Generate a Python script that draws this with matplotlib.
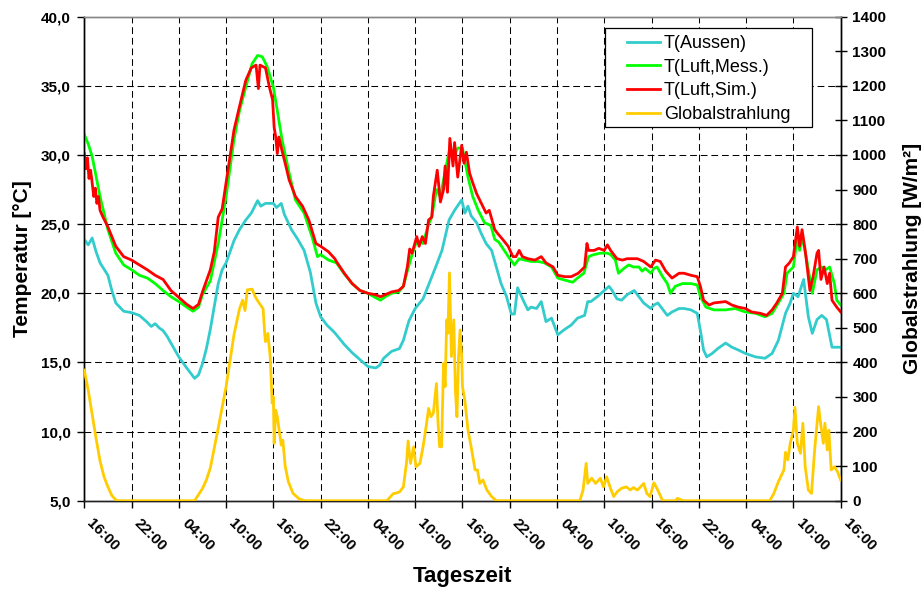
import matplotlib
matplotlib.use('Agg')
import matplotlib.pyplot as plt
from matplotlib.patches import Rectangle

plt.rcParams['font.family'] = ['Liberation Sans', 'DejaVu Sans']

# ---------------- data (hours after 16:00 of day 1) ----------------
x_tick_hours = [0, 6, 12, 18, 24, 30, 36, 42, 48, 54, 60, 66, 72, 78, 84, 90, 96]
x_tick_labels = ['16:00', '22:00', '04:00', '10:00', '16:00', '22:00', '04:00', '10:00',
                 '16:00', '22:00', '04:00', '10:00', '16:00', '22:00', '04:00', '10:00', '16:00']
temp_ticks = [5, 10, 15, 20, 25, 30, 35, 40]
temp_tick_labels = ['5,0', '10,0', '15,0', '20,0', '25,0', '30,0', '35,0', '40,0']
rad_ticks = [0, 100, 200, 300, 400, 500, 600, 700, 800, 900, 1000, 1100, 1200, 1300, 1400]

t_aussen = [0, 0.5, 1.0, 1.5, 2, 3, 3.5, 4, 5, 6, 7, 8, 8.5, 9, 9.5, 10, 10.5, 11, 12, 13, 14,
            14.5, 15, 15.5, 16, 17, 17.5, 18, 19, 19.7, 20.5, 21.2, 22, 22.4, 23, 24, 24.4, 25,
            25.4, 26.3, 27.1, 27.9, 28.7, 29.4, 30, 30.8, 31.7, 32, 33, 34, 35, 36, 37, 37.5, 38,
            39, 40, 40.5, 41.2, 42, 43, 43.7, 44.6, 45.4, 46.3, 47, 47.9, 48.3, 48.7, 49.1, 49.8,
            50.4, 51, 51.7, 52.3, 52.9, 53.6, 54.2, 54.6, 55, 55.7, 56.3, 56.7, 57.4, 58, 58.6,
            59.3, 60.1, 61, 61.8, 62.6, 63.5, 63.9, 64.3, 65.1, 66, 66.6, 67, 67.6, 68.2, 68.9,
            69.8, 70.4, 71, 71.9, 72.3, 72.8, 74, 74.6, 75.5, 76.1, 77, 77.8, 78.2, 78.6, 79,
            79.7, 80.4, 81.4, 82.2, 83, 83.9, 85.2, 86.4, 87.3, 88.1, 89, 89.6, 90, 90.6, 91.3,
            91.9, 92.4, 93, 93.6, 94.2, 94.9, 95.5, 96]
v_aussen = [23.9, 23.5, 24.0, 23.0, 22.2, 21.3, 20.2, 19.3, 18.7, 18.6, 18.4, 17.9, 17.6, 17.8,
            17.5, 17.3, 16.9, 16.4, 15.4, 14.6, 13.85, 14.1, 14.9, 16.0, 17.4, 20.7, 21.7, 22.2,
            23.8, 24.6, 25.3, 25.8, 26.7, 26.3, 26.5, 26.5, 26.2, 26.5, 25.7, 24.6, 23.9, 23.1,
            21.5, 19.3, 18.3, 17.7, 17.2, 17.0, 16.3, 15.7, 15.2, 14.7, 14.6, 14.8, 15.3, 15.8,
            16.0, 16.6, 18.0, 18.9, 19.6, 20.6, 21.9, 23.1, 25.3, 26.0, 26.75, 25.8, 26.3, 25.6,
            25.1, 24.3, 23.6, 23.1, 21.9, 20.7, 19.75, 18.5, 18.5, 20.4, 19.5, 18.8, 19.0, 18.9,
            19.4, 17.95, 18.2, 17.0, 17.4, 17.7, 18.2, 18.4, 19.4, 19.4, 19.75, 20.2, 20.5, 20.2,
            19.6, 19.5, 19.9, 20.2, 19.75, 19.3, 18.9, 19.15, 19.3, 18.4, 18.65, 18.9, 18.9, 18.8,
            18.55, 17.3, 15.9, 15.4, 15.65, 16.0, 16.4, 16.1, 15.9, 15.65, 15.4, 15.3, 15.65,
            16.6, 18.55, 19.3, 20.0, 19.75, 21.0, 18.3, 17.1, 18.1, 18.4, 18.1, 16.1, 16.1, 16.1]

t_mess = [0, 0.5, 1, 2, 3, 4, 5, 6, 7, 8, 9, 10, 11, 12, 13, 13.8, 14.5, 15, 15.5, 16, 17, 18,
          19, 19.7, 20.5, 21.3, 22, 22.6, 23.2, 24, 24.5, 25.1, 26, 26.8, 27.9, 28.9, 29.6, 30,
          31, 32, 33, 34, 35, 36, 36.9, 37.6, 38.2, 39, 39.9, 40.5, 41, 41.5, 42.2, 43, 43.7,
          44.1, 44.7, 45.2, 45.8, 46.4, 47, 47.4, 48, 48.7, 49.3, 50, 50.8, 51.6, 52.1, 52.6,
          53.3, 54, 54.6, 55.2, 55.9, 56.7, 57.6, 58.4, 59.3, 60.1, 61, 62, 62.6, 63.4, 64,
          64.7, 65.5, 66.4, 66.8, 67.4, 67.8, 68.5, 69.1, 69.7, 70.4, 70.8, 71.2, 71.9, 72.3,
          72.7, 73.4, 74, 74.4, 75, 75.9, 77, 77.8, 78.2, 78.9, 79.9, 81.4, 82.6, 83.9, 85.2,
          86.4, 87.3, 88.1, 88.8, 89.2, 90, 90.5, 90.8, 91.1, 91.7, 92.4, 93, 93.6, 94.1, 94.6,
          95.2, 95.5, 96]
v_mess = [31.5, 30.8, 29.9, 27.0, 24.6, 22.9, 22.05, 21.7, 21.3, 21.1, 20.7, 20.2, 19.75, 19.4,
          19.0, 18.7, 19.0, 19.9, 20.4, 20.9, 23.6, 27.0, 31.1, 33.2, 34.9, 36.6, 37.2, 37.1,
          36.4, 34.9, 33.2, 31.1, 28.7, 26.75, 25.8, 24.1, 22.65, 22.8, 22.4, 22.2, 21.4, 20.7,
          20.2, 20.0, 19.7, 19.5, 19.75, 20.0, 20.1, 20.5, 21.6, 22.6, 23.8, 23.6, 25.0, 25.5,
          27.5, 27.0, 28.8, 30.5, 30.0, 30.5, 30.5, 28.4, 27.0, 26.0, 25.1, 24.9, 23.9, 23.7,
          23.1, 22.5, 22.05, 22.5, 22.4, 22.3, 22.3, 22.2, 21.9, 21.1, 20.95, 20.8, 21.1,
          21.45, 22.65, 22.8, 22.9, 22.9, 22.8, 22.4, 21.45, 21.8, 22.05, 21.9, 21.9, 21.6,
          21.8, 21.45, 21.8, 21.9, 21.2, 20.7, 20.0, 20.5, 20.7, 20.7, 20.6, 19.75, 19.0, 18.8,
          18.8, 18.9, 18.65, 18.55, 18.3, 18.55, 19.3, 20.0, 21.45, 21.9, 24.1, 23.1, 24.1,
          22.4, 20.0, 21.7, 21.9, 21.7, 21.9, 20.7, 19.5, 19.15]

t_sim = [0, 0.2, 0.4, 0.6, 0.8, 1.0, 1.2, 1.4, 1.6, 1.8, 2.0, 2.3, 3, 4, 5, 6, 7, 8, 9, 10, 11,
         12, 13, 13.8, 14.5, 15, 15.5, 16, 16.5, 17, 17.5, 18, 18.5, 19, 19.7, 20.5, 21.2, 21.8,
         22.1, 22.3, 23, 23.5, 23.9, 24.1, 24.3, 24.5, 24.7, 25.1, 25.5, 26, 26.8, 27.7, 28.5,
         29.4, 30, 31, 31.8, 32, 33, 34, 35, 36, 36.9, 37.6, 38.2, 39, 39.9, 40.5, 41, 41.3,
         41.6, 42.2, 42.5, 42.9, 43.3, 43.7, 44.1, 44.3, 44.8, 45.2, 45.6, 45.8, 46.1, 46.4,
         46.8, 47.0, 47.4, 47.9, 48.2, 48.5, 48.9, 49.3, 49.8, 50.4, 51, 51.4, 51.85, 52.1,
         52.5, 53.1, 53.8, 54.4, 54.8, 55.2, 55.6, 56.3, 57.2, 58, 58.6, 59.5, 60.1, 61, 61.8,
         62.7, 63.5, 63.8, 64.0, 64.7, 65.3, 66, 66.4, 66.8, 67.6, 68.3, 68.9, 69.6, 70.2, 71,
         71.9, 72.5, 73.1, 73.8, 74.6, 75.5, 76.1, 77, 77.8, 78.2, 78.6, 79.3, 79.9, 81.4, 82.2,
         83, 83.9, 84.7, 85.8, 86.6, 87.3, 87.9, 88.6, 89, 89.5, 90, 90.5, 90.8, 91.1, 91.5,
         92.1, 92.5, 93, 93.2, 93.5, 93.9, 94.3, 94.6, 94.9, 95.5, 96]
v_sim = [30.1, 29.0, 29.8, 28.3, 28.9, 28.0, 27.0, 27.6, 26.5, 27.0, 26.0, 25.6, 24.8, 23.4,
         22.65, 22.4, 22.05, 21.7, 21.3, 21.0, 20.2, 19.7, 19.2, 18.9, 19.2, 20.1, 20.9, 21.7,
         23.0, 25.5, 26.1, 28.0, 29.9, 31.8, 33.5, 35.4, 36.3, 36.5, 34.8, 36.5, 36.3, 34.9,
         34.0, 32.0, 31.3, 30.1, 31.3, 30.3, 29.4, 28.2, 27.0, 26.3, 25.3, 23.6, 23.4, 23.0,
         22.5, 22.3, 21.45, 20.7, 20.2, 20.0, 19.9, 19.75, 19.9, 20.1, 20.2, 20.5, 21.9, 23.2,
         22.9, 24.1, 23.4, 24.1, 23.6, 25.3, 25.5, 27.0, 28.9, 26.6, 27.5, 29.2, 27.3, 31.2,
         29.2, 30.9, 28.4, 30.7, 29.4, 30.2, 28.7, 28.0, 27.2, 26.5, 25.8, 26.0, 25.1, 24.6,
         24.3, 23.9, 23.4, 22.65, 22.65, 23.1, 22.65, 22.5, 22.4, 22.65, 22.2, 21.9, 21.3,
         21.2, 21.2, 21.45, 21.9, 23.6, 23.1, 23.1, 23.25, 23.1, 23.5, 23.1, 22.5, 22.4, 22.5,
         22.5, 22.5, 22.3, 21.9, 22.4, 22.3, 21.6, 21.1, 21.45, 21.45, 21.3, 21.2, 20.5, 19.5,
         19.15, 19.3, 19.4, 19.15, 19.0, 18.9, 18.65, 18.55, 18.4, 18.8, 19.3, 20.0, 21.9,
         22.2, 22.65, 24.8, 23.4, 24.6, 23.1, 20.2, 21.2, 22.9, 23.1, 21.0, 21.9, 20.7, 21.45,
         19.5, 19.0, 18.65]

t_glob = [0, 0.5, 1, 1.5, 2, 2.5, 3, 3.5, 4.1, 14, 15, 15.5, 16, 17, 18, 19, 19.7, 20.1, 20.4,
          20.7, 21.3, 21.7, 22.1, 22.7, 22.9, 23.0, 23.3, 23.6, 23.85, 24.0, 24.1, 24.3, 24.5,
          24.8, 25.0, 25.2, 25.5, 25.9, 26.5, 27.3, 28, 38.4, 39.2, 40, 40.5, 40.9, 41.1, 41.4,
          41.8, 42.1, 42.6, 43, 43.45, 43.7, 44, 44.3, 44.7, 44.9, 45.1, 45.35, 45.6, 45.8,
          46.0, 46.15, 46.35, 46.6, 46.9, 47.1, 47.3, 47.5, 47.7, 47.9, 48.0, 48.3, 48.7, 49.1,
          49.6, 49.9, 50.2, 50.6, 51.1, 51.7, 52.3, 62.9, 63.3, 63.7, 63.9, 64.4, 64.9, 65.5,
          65.9, 66.3, 66.8, 67.2, 67.6, 68.2, 68.8, 69.3, 69.7, 70.2, 70.6, 71, 71.4, 71.8,
          72.3, 72.7, 73.4, 75.0, 75.3, 76, 87, 87.5, 88.1, 88.8, 89.0, 89.3, 89.6, 90, 90.2,
          90.5, 90.9, 91.2, 91.5, 91.9, 92.3, 92.7, 93.2, 93.4, 93.8, 94.0, 94.3, 94.5, 94.8,
          95.2, 95.6, 96]
v_glob = [378, 320, 250, 180, 115, 70, 40, 15, 0, 0, 35, 60, 95, 210, 330, 480, 555, 580, 550,
          610, 612, 590, 575, 555, 484, 460, 484, 416, 282, 300, 166, 262, 243, 195, 161, 175,
          100, 55, 21, 5, 0, 0, 20, 25, 40, 110, 173, 108, 156, 98, 108, 156, 224, 267, 243,
          253, 339, 224, 156, 156, 397, 330, 523, 484, 659, 417, 523, 320, 243, 417, 494, 417,
          330, 291, 204, 156, 89, 89, 50, 60, 31, 12, 0, 0, 30, 108, 50, 65, 50, 65, 40, 69, 35,
          12, 25, 36, 40, 31, 38, 31, 40, 50, 21, 12, 52, 35, 0, 0, 7, 0, 0, 20, 55, 89, 140,
          118, 166, 204, 270, 166, 137, 224, 98, 31, 21, 147, 272, 233, 166, 224, 147, 204, 89,
          98, 84, 60]

series_names = ['T(Aussen)', 'T(Luft,Mess.)', 'T(Luft,Sim.)', 'Globalstrahlung']
series_colors = ['#33CCCC', '#00FF00', '#FF0000', '#FFCC00']

# ---------------- figure ----------------
fig = plt.figure(figsize=(9.24, 5.92), dpi=100)
ax = fig.add_axes([0.0912, 0.1542, 0.8186, 0.8176])
ax2 = ax.twinx()

lw = 2.0
l1, = ax.plot(t_aussen, v_aussen, color=series_colors[0], lw=lw, label=series_names[0], zorder=3)
l2, = ax.plot(t_mess, v_mess, color=series_colors[1], lw=lw, label=series_names[1], zorder=4)
l3, = ax.plot(t_sim, v_sim, color=series_colors[2], lw=lw, label=series_names[2], zorder=5)
l4, = ax2.plot(t_glob, v_glob, color=series_colors[3], lw=lw, label=series_names[3], zorder=3)

ax.set_xlim(0, 96)
ax.set_ylim(5, 40)
ax2.set_ylim(0, 1400)

ax.set_xticks(x_tick_hours)
ax.set_xticklabels(x_tick_labels, rotation=-45, ha='left', va='top',
                   fontsize=11, fontweight='bold')
ax.set_yticks(temp_ticks)
ax.set_yticklabels(temp_tick_labels, fontsize=11, fontweight='bold')
ax2.set_yticks(rad_ticks)
ax2.set_yticklabels([str(v) for v in rad_ticks], fontsize=11, fontweight='bold')

ax.tick_params(axis='x', direction='out', length=5, width=1, pad=6)
ax.tick_params(axis='y', direction='out', length=5, width=1, pad=5)
ax2.tick_params(axis='y', direction='inout', length=9, width=1, pad=4)

ax.grid(True, color='black', linestyle=(0, (6.5, 3.7)), linewidth=0.75)

for a in (ax, ax2):
    a.spines['top'].set_color('#888888')
    a.spines['left'].set_color('black')
    a.spines['bottom'].set_color('#222222')
    a.spines['right'].set_color('black')
    for s in a.spines.values():
        s.set_linewidth(1.0)

ax.set_ylabel('Temperatur [°C]', fontsize=15, fontweight='bold')
ax.yaxis.set_label_coords(-0.0691, 0.5)
ax2.set_ylabel('Globalstrahlung [W/m²]', fontsize=15, fontweight='bold')
ax2.yaxis.set_label_coords(1.0824, 0.5)
ax.set_xlabel('Tageszeit', fontsize=16, fontweight='bold')
ax.xaxis.label.set_va('center')
ax.xaxis.set_label_coords(0.5, -0.1566)

# legend with custom frame
frame = Rectangle((0.6884, 0.7727), 0.9617 - 0.6884, 0.976 - 0.7727, transform=ax2.transAxes,
                  facecolor='white', edgecolor='black', linewidth=0.9, zorder=10)
ax2.add_patch(frame)
leg = ax2.legend(handles=[l1, l2, l3, l4], loc='upper left', bbox_to_anchor=(0.7171, 0.962),
                 frameon=False, fontsize=13, borderpad=0, handlelength=1.85,
                 handletextpad=0.2, labelspacing=0.37, borderaxespad=0)
leg.set_zorder(11)

fig.savefig('out.png', dpi=100)
